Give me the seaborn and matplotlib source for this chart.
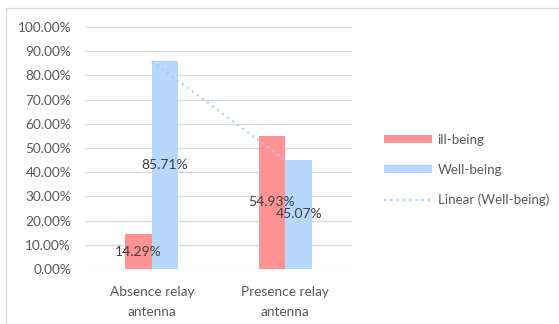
import matplotlib
matplotlib.use("Agg")
import matplotlib.pyplot as plt
import seaborn as sns
import pandas as pd
import numpy as np
from matplotlib.patches import Patch, Rectangle
from matplotlib.lines import Line2D
from matplotlib.ticker import FuncFormatter

categories = ["Absence relay\nantenna", "Presence relay\nantenna"]
series = ["ill-being", "Well-being"]
ill_being = [14.29, 54.93]
well_being = [85.71, 45.07]
y_ticks = [0, 10, 20, 30, 40, 50, 60, 70, 80, 90, 100]

colors = {"ill-being": "#ff9393", "Well-being": "#b5d8fc"}
text_color = "#595959"
grid_color = "#d9d9d9"
trend_color = "#a9cdf3"

sns.set_theme(style="white")
plt.rcParams["font.family"] = ["Lato", "DejaVu Sans"]

df = pd.DataFrame({
    "category": categories * 2,
    "series": [series[0]] * len(categories) + [series[1]] * len(categories),
    "value": ill_being + well_being,
})

fig = plt.figure(figsize=(5.59, 3.24), dpi=100)
ax = fig.add_axes([0.152, 0.170, 0.478, 0.747])

sns.barplot(data=df, x="category", y="value", hue="series", palette=colors,
            width=0.4, gap=0, dodge=True, ax=ax, legend=False,
            saturation=1, errorbar=None, linewidth=0, zorder=2)

# value labels centred in each bar
for container in ax.containers:
    for bar in container:
        h = bar.get_height()
        ax.text(bar.get_x() + bar.get_width() / 2, h / 2, f"{h:.2f}%",
                ha="center", va="center", fontsize=10, color="#404040", zorder=5)

# linear trendline through the Well-being values at category positions
xs = np.arange(len(categories))
coef = np.polyfit(xs, well_being, 1)
ax.plot(xs, np.polyval(coef, xs), linestyle=(0, (1, 2)), color=trend_color,
        linewidth=1.5, zorder=4)

ax.set_xlim(-0.5, len(categories) - 0.5)
ax.set_ylim(0, 100)
ax.set_yticks(y_ticks)
ax.yaxis.set_major_formatter(FuncFormatter(lambda v, p: f"{v:.2f}%"))
ax.grid(axis="y", color=grid_color, linewidth=1, zorder=0)
ax.set_axisbelow(True)
for s in ax.spines.values():
    s.set_visible(False)
ax.set_xlabel("")
ax.set_ylabel("")
ax.tick_params(axis="both", length=0, labelsize=9.8, colors=text_color)
ax.tick_params(axis="y", pad=10)
ax.tick_params(axis="x", pad=12)
for lab in ax.get_xticklabels():
    lab.set_linespacing(1.8)

handles = [
    Patch(facecolor=colors["ill-being"], edgecolor="none"),
    Patch(facecolor=colors["Well-being"], edgecolor="none"),
    Line2D([0], [0], linestyle=(0, (1, 2)), color=trend_color, linewidth=1.5),
]
labels = ["ill-being", "Well-being", "Linear (Well-being)"]
leg = fig.legend(handles, labels, loc="center left", bbox_to_anchor=(0.665, 0.475),
                 frameon=False, fontsize=9.6, handlelength=3.6, handleheight=0.6,
                 labelspacing=1.35, handletextpad=0.45)
for t in leg.get_texts():
    t.set_color(text_color)

# chart frame
fig.patches.append(Rectangle((6 / 559, -0.1), 1.2, 1 - 8 / 324 + 0.1,
                             transform=fig.transFigure, fill=False,
                             edgecolor=grid_color, linewidth=1))

fig.savefig("out.png", dpi=100)
